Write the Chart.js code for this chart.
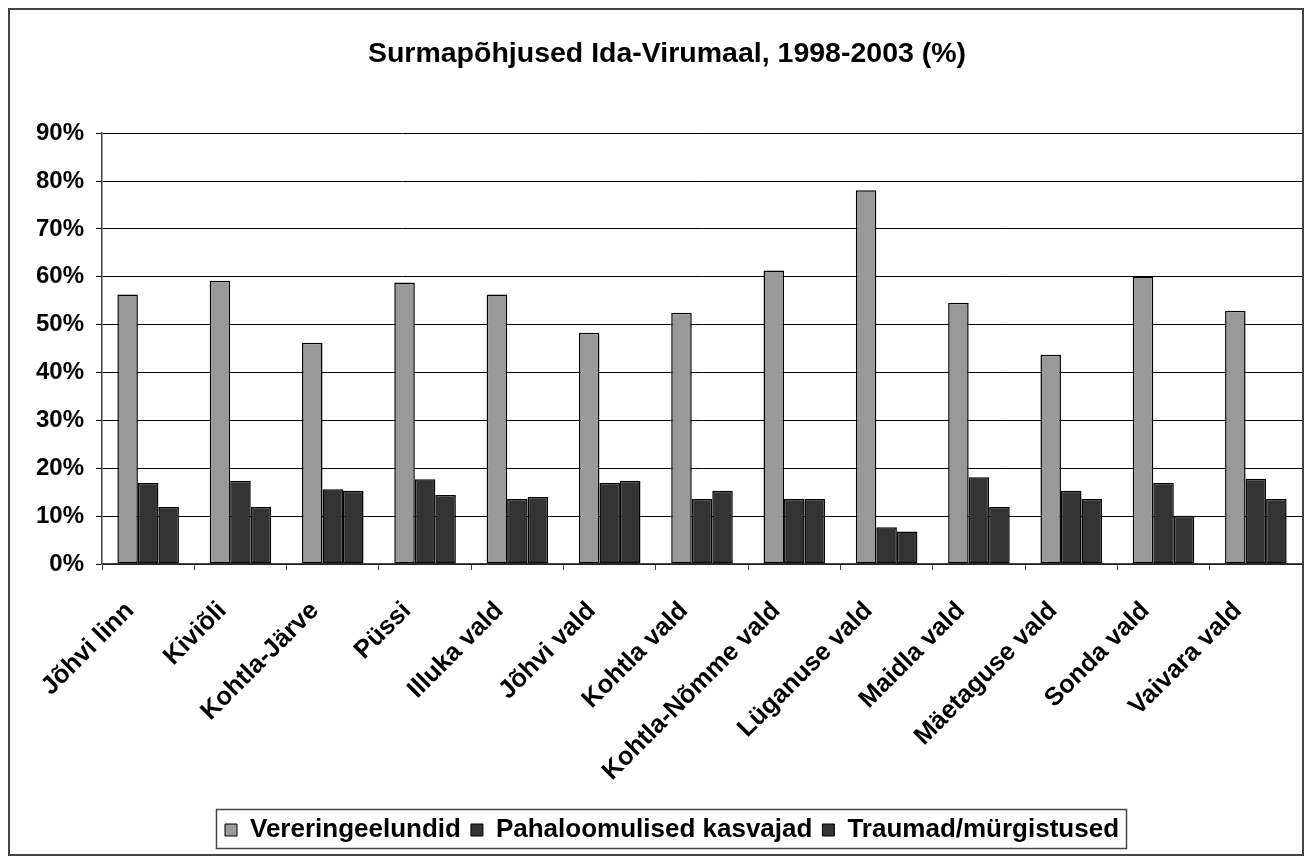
<!DOCTYPE html>
<html>
<head>
<meta charset="utf-8">
<title>Surmapõhjused Ida-Virumaal</title>
<script src="https://cdn.jsdelivr.net/npm/chart.js@4/dist/chart.umd.min.js"></script>
<style>
  html, body { margin: 0; padding: 0; background: #fff; }
  canvas { display: block; }
</style>
</head>
<body>
<canvas id="chart" width="1312" height="863"></canvas>
<script>
// Data (percent)
const vallad = [
  "Jõhvi linn", "Kiviõli", "Kohtla-Järve", "Püssi", "Illuka vald", "Jõhvi vald",
  "Kohtla vald", "Kohtla-Nõmme vald", "Lüganuse vald", "Maidla vald",
  "Mäetaguse vald", "Sonda vald", "Vaivara vald",
]
const vereringe = [56.3, 59.2, 46.2, 58.8, 56.3, 48.3, 52.5, 61.3, 78.1, 54.6, 43.7, 60.0, 52.9]
const kasvajad = [16.9, 17.4, 15.6, 17.7, 13.6, 16.9, 13.6, 13.6, 7.7, 18.1, 15.3, 16.9, 17.8]
const traumad = [11.9, 11.9, 15.3, 14.4, 14.0, 17.4, 15.3, 13.6, 6.8, 11.9, 13.6, 10.1, 13.6]
const seeriad = ["Vereringeelundid", "Pahaloomulised kasvajad", "Traumad/mürgistused"]
const yTicks = [0, 10, 20, 30, 40, 50, 60, 70, 80, 90]

const FONT = "'Liberation Sans', Arial, sans-serif"

// White page + outer frame
const framePlugin = {
  id: "frame",
  beforeDraw(chart) {
    const ctx = chart.ctx
    ctx.save()
    ctx.fillStyle = "#fff"
    ctx.fillRect(0, 0, chart.width, chart.height)
    ctx.strokeStyle = "#444"
    ctx.lineWidth = 2
    ctx.strokeRect(9, 9, 1294, 846)
    ctx.restore()
  },
}

// Title and legend sit a bit right of centre in the original; legend has a box
const legendBoxPlugin = {
  id: "legendBox",
  afterLayout(chart) {
    if (chart.legend) {
      chart.legend.left += 21
      chart.legend.right += 21
    }
    if (chart.titleBlock) {
      chart.titleBlock.left += 16
      chart.titleBlock.right += 16
    }
  },
  afterDraw(chart) {
    const boxes = chart.legend && chart.legend.legendHitBoxes
    if (!boxes || !boxes.length) return
    let x1 = Infinity, x2 = -Infinity, y1 = Infinity, y2 = -Infinity
    boxes.forEach((b) => {
      x1 = Math.min(x1, b.left)
      x2 = Math.max(x2, b.left + b.width)
      y1 = Math.min(y1, b.top)
      y2 = Math.max(y2, b.top + b.height)
    })
    const ctx = chart.ctx
    ctx.save()
    ctx.strokeStyle = "#444"
    ctx.lineWidth = 1.5
    ctx.strokeRect(Math.round(x1 - 9) + 0.5, Math.round(y1 - 8) + 0.5, Math.round(x2 - x1 + 16), Math.round(y2 - y1 + 13))
    ctx.restore()
  },
}

function makeSet(label, data, color) {
  return {
    label: label,
    data: data,
    backgroundColor: color,
    borderColor: "#000",
    borderWidth: 1.5,
    borderSkipped: false,
    categoryPercentage: 0.667,
    barPercentage: 1.0,
  }
}

new Chart(document.getElementById("chart"), {
  type: "bar",
  data: {
    labels: vallad,
    datasets: [
      makeSet(seeriad[0], vereringe, "#999999"),
      makeSet(seeriad[1], kasvajad, "#333333"),
      makeSet(seeriad[2], traumad, "#333333"),
    ],
  },
  options: {
    responsive: false,
    animation: false,
    devicePixelRatio: 1,
    layout: { padding: { top: 20, left: 0, right: 10, bottom: 10 } },
    plugins: {
      title: {
        display: true,
        text: "Surmapõhjused Ida-Virumaal, 1998-2003 (%)",
        color: "#000",
        font: { family: FONT, size: 28.5, weight: "bold", lineHeight: 1.2 },
        padding: { top: 17, bottom: 62 },
      },
      legend: {
        position: "bottom",
        labels: {
          color: "#000",
          font: { family: FONT, size: 26, weight: "bold" },
          boxWidth: 12,
          boxHeight: 12,
          padding: 10,
          generateLabels(chart) {
            return chart.data.datasets.map((ds, i) => ({
              text: ds.label,
              fillStyle: ds.backgroundColor,
              strokeStyle: "#000",
              lineWidth: 1,
              fontColor: "#000",
              datasetIndex: i,
            }))
          },
        },
      },
      tooltip: { enabled: false },
    },
    scales: {
      x: {
        offset: true,
        grid: { offset: true, drawOnChartArea: false, color: "#444", tickLength: 6 },
        border: { color: "#444", width: 1.5 },
        ticks: {
          color: "#000",
          font: { family: FONT, size: 25.5, weight: "bold" },
          minRotation: 45,
          maxRotation: 45,
          padding: 26,
          labelOffset: -18,
        },
        afterFit(scale) { scale.height = 243 },
      },
      y: {
        min: 0,
        max: 90,
        afterBuildTicks(scale) { scale.ticks = yTicks.map((v) => ({ value: v })) },
        grid: { color: "#000", lineWidth: 1, tickLength: 6 },
        border: { color: "#444", width: 1.5 },
        ticks: {
          color: "#000",
          font: { family: FONT, size: 24, weight: "bold" },
          padding: 12,
          callback: (v) => v + "%",
        },
        afterFit(scale) { scale.width = 102 },
      },
    },
  },
  plugins: [framePlugin, legendBoxPlugin],
})
</script>
</body>
</html>
